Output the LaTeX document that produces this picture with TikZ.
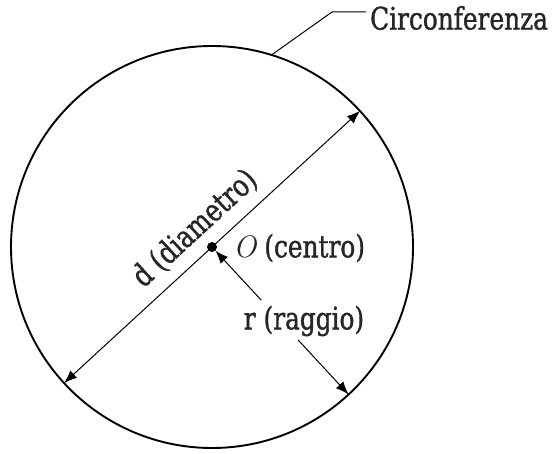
\documentclass[tikz,border=0pt]{standalone}
\usepackage{fontspec}
\setmainfont{DejaVu Serif}[FakeStretch=0.8, FakeBold=1.2]
\newfontfamily\lmfont{Latin Modern Roman}
\usetikzlibrary{arrows.meta,calc}

\tikzset{
  rim/.style={line width=1.9pt},
  dimline/.style={line width=1pt, -{Latex[length=13pt,width=10pt]}},
  leader/.style={line width=1pt},
  lbl/.style={font=\fontsize{31}{37}\selectfont, inner sep=0pt, text=black!85},
}

\begin{document}
\begin{tikzpicture}[x=1pt,y=1pt]
\useasboundingbox (0,0) rectangle (553,454);

\def\rad{201} % circle radius
\def\ang{42.6} % diameter angle

% Circle and centre
\coordinate (O) at (212,207);
\draw[rim] (O) circle (\rad);
\fill (O) circle (5);

% Diameter
\coordinate (dA) at ($(O)+(\ang:\rad)$);
\coordinate (dB) at ($(O)+(\ang+180:\rad)$);
\draw[dimline, {Latex[length=13pt,width=10pt]}-{Latex[length=13pt,width=10pt]}] (dB) -- (dA);
\node[lbl, rotate=\ang] (dlab) at ($(O)+(\ang+90:25)$) {d (diametro)};

% Radius (split by its label)
\coordinate (R) at ($(O)+(-47.2:\rad)$);
\coordinate (r1) at ($(O)!0.36!(R)$);
\coordinate (r2) at ($(O)!0.63!(R)$);
\draw[dimline, shorten >=5pt] (r1) -- (O);
\draw[dimline] (r2) -- (R);
\node[lbl] (rlab) at (304,133) {r (raggio)};

% Centre label
\node[lbl, anchor=west] (olab) at (233,206) {{\lmfont\itshape O} (centro)};

% Circumference label
\coordinate (C) at ($(O)+(72.8:\rad)$);
\coordinate (knee) at (332,442);
\node[lbl, anchor=west] (clab) at (370,436) {Circonferenza};
\draw[leader] (C) -- (knee) -- ([xshift=-4pt]knee -| clab.west);

\end{tikzpicture}
\end{document}
